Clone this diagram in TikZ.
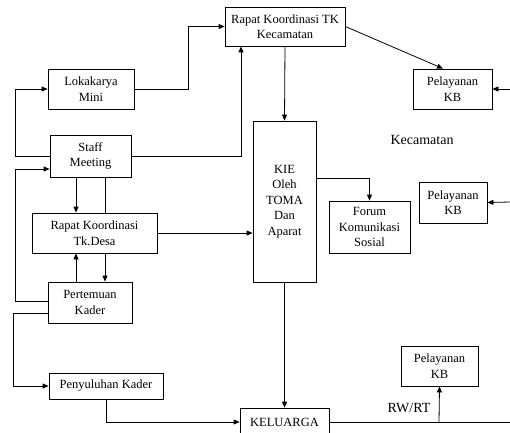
\documentclass[tikz,border=0pt]{standalone}
\usepackage{fontspec}
\setmainfont{Liberation Serif}
\usetikzlibrary{arrows.meta}
\tikzset{
  box/.style={draw, line width=0.8pt, align=center, inner sep=0pt,
              font=\fontsize{12.5}{15.5}\selectfont},
  conn/.style={line width=0.8pt},
  arr/.style={line width=0.8pt, -{Triangle[length=6pt,width=5pt]}},
  lbl/.style={font=\fontsize{14}{16}\selectfont, inner sep=0pt}
}
\begin{document}
\begin{tikzpicture}[x=1pt,y=-1pt]
\useasboundingbox (0,0) rectangle (510,432);
\node[box, minimum width=120pt, minimum height=39pt] (rtk) at (285,26.5) {Rapat Koordinasi TK\\Kecamatan};
\node[box, minimum width=86pt, minimum height=40pt] (lok) at (91,89) {Lokakarya\\Mini};
\node[box, minimum width=81pt, minimum height=42pt] (staff) at (90.5,156) {Staff\\Meeting};
\node[box, minimum width=125pt, minimum height=40pt] (rdesa) at (94.5,233) {Rapat Koordinasi\\Tk.Desa};
\node[box, minimum width=84pt, minimum height=41pt] (per) at (90,302.5) {Pertemuan\\Kader};
\node[box, minimum width=114pt, minimum height=26pt] (pen) at (106,386) {Penyuluhan Kader};
\node[box, minimum width=89pt, minimum height=28pt] (kel) at (284.5,422) {KELUARGA};
\node[box, minimum width=63pt, minimum height=161pt] (kie) at (284.5,201.5) {KIE\\Oleh\\TOMA\\Dan\\Aparat};
\node[box, minimum width=81pt, minimum height=52pt] (forum) at (369.5,227) {Forum\\Komunikasi\\Sosial};
\node[box, minimum width=79pt, minimum height=40pt] (kb1) at (452.5,89) {Pelayanan\\KB};
\node[box, minimum width=68pt, minimum height=41pt] (kb2) at (453,202.5) {Pelayanan\\KB};
\node[box, minimum width=77pt, minimum height=40pt] (kb3) at (439.5,366) {Pelayanan\\KB};
\node[lbl] (kec) at (422,140) {Kecamatan};
\node[lbl] (rwrt) at (409,408) {RW/RT};
\coordinate (e1) at (510,89);
\coordinate (e2) at (510,202);
\coordinate (e3) at (510,422);
\coordinate (j3) at (439,422);
% connectors
\draw[arr] (lok.east) -- (188,89) |- (rtk.west);
\draw[arr] (staff.east) -| (rtk.south -| 241,0);
\draw[arr] (staff.west) -- (15,156) |- (lok.west);
\draw[arr] (per.west |- 0,301) -- (15,301) |- (staff.west |- 0,169);
\draw[arr] (per.west |- 0,313) -| (13,386) -- (pen.west);
\draw[arr] (staff.south -| 76,0) -- (rdesa.north -| 76,0);
\draw[conn] (staff.south -| 105,0) -- (rdesa.north -| 105,0);
\draw[arr] (per.north -| 76,0) -- (rdesa.south -| 76,0);
\draw[arr] (rdesa.south -| 105,0) -- (per.north -| 105,0);
\draw[arr] (rdesa.east) -- (kie.west |- rdesa.east);
\draw[arr] (pen.south) |- (kel.west);
\draw[arr] (rtk.south) -- (kie.north);
\draw[arr] (rtk.east) -- (kb1.north -| 443,0);
\draw[arr] (kie.east |- 0,178) -| (forum.north);
\draw[arr] (kie.south) -- (kel.north);
\draw[arr] (e1) -- (kb1.east);
\draw[arr] (e2) -- (kb2.east);
\draw[conn] (kel.east) -- (e3);
\draw[arr] (j3) -- (kb3.south);
\end{tikzpicture}
\end{document}
